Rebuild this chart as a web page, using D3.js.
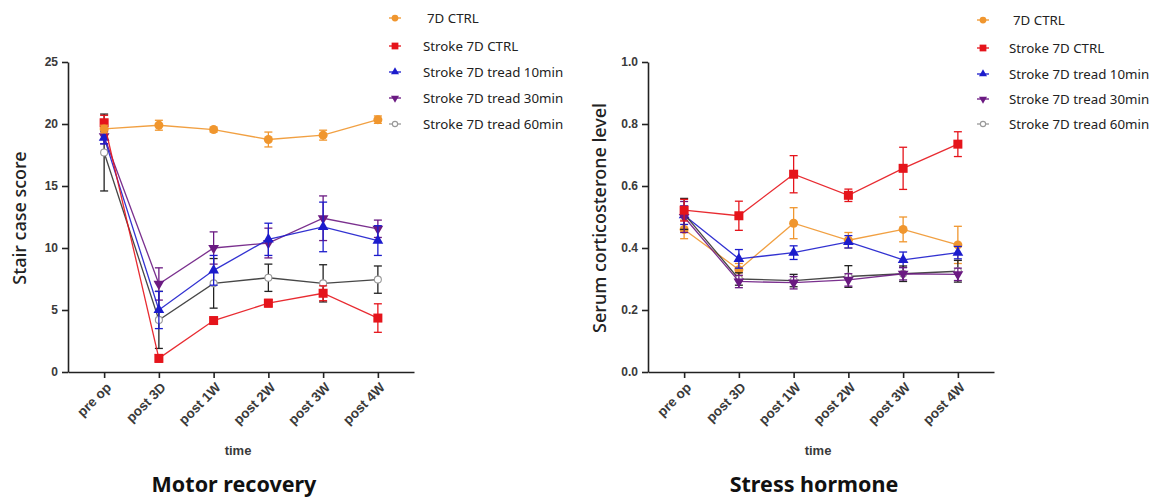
<!DOCTYPE html>
<html>
<head>
<meta charset="utf-8">
<script src="https://cdnjs.cloudflare.com/ajax/libs/d3/7.8.5/d3.min.js"></script>
<style>
  body { margin: 0; background: #fff; }
  svg { display: block; }
  .tick text { font-family: "Liberation Sans", Arial, sans-serif; font-weight: bold; fill: #3a3a3a; }
</style>
</head>
<body>
<div id="chart"></div>
<script>
// time points
var categories = ["pre op", "post 3D", "post 1W", "post 2W", "post 3W", "post 4W"];
var groups = ["7D CTRL", "Stroke 7D CTRL", "Stroke 7D tread 10min", "Stroke 7D tread 30min", "Stroke 7D tread 60min"];

// motor recovery (stair case score), mean and error
var motorCtrl      = [19.6, 19.9, 19.55, 18.75, 19.1, 20.35];
var motorCtrlErr   = [0.3, 0.4, 0.2, 0.6, 0.4, 0.3];
var motorStroke    = [20.1, 1.1, 4.15, 5.55, 6.35, 4.35];
var motorStrokeErr = [0.6, 0.3, 0.2, 0.3, 0.6, 1.15];
var motor10        = [18.9, 5.0, 8.2, 10.7, 11.7, 10.6];
var motor10Err     = [0.5, 1.5, 1.2, 1.3, 2.0, 1.2];
var motor30        = [19.0, 7.1, 10.0, 10.4, 12.4, 11.55];
var motor30Err     = [0.6, 1.3, 1.3, 1.2, 1.8, 0.7];
var motor60        = [17.7, 4.2, 7.15, 7.6, 7.15, 7.45];
var motor60Err     = [3.1, 2.3, 2.0, 1.1, 1.5, 1.1];

// stress hormone (serum corticosterone), mean and error
var cortCtrl      = [0.46, 0.33, 0.48, 0.425, 0.46, 0.41];
var cortCtrlErr   = [0.03, 0.02, 0.05, 0.025, 0.04, 0.06];
var cortStroke    = [0.522, 0.504, 0.638, 0.57, 0.657, 0.735];
var cortStrokeErr = [0.035, 0.047, 0.06, 0.02, 0.068, 0.04];
var cort10        = [0.506, 0.365, 0.385, 0.42, 0.362, 0.385];
var cort10Err     = [0.03, 0.03, 0.022, 0.02, 0.025, 0.02];
var cort30        = [0.50, 0.292, 0.288, 0.297, 0.317, 0.315];
var cort30Err     = [0.05, 0.02, 0.02, 0.02, 0.02, 0.02];
var cort60        = [0.51, 0.30, 0.295, 0.308, 0.317, 0.325];
var cort60Err     = [0.05, 0.02, 0.02, 0.035, 0.025, 0.035];

var motorTicks = [0, 5, 10, 15, 20, 25];
var cortTicks = [0, 0.2, 0.4, 0.6, 0.8, 1.0];

var colors = ["#f0962e", "#e5141b", "#1c1ccc", "#6b1a82", "#333333"];
var shapes = ["circle", "square", "triUp", "triDown", "open"];

var svg = d3.select("#chart").append("svg")
  .attr("width", 1167)
  .attr("height", 497);

function marker(g, shape, color, x, y, s) {
  s = s || 1;
  if (shape == "circle") {
    g.append("circle").attr("cx", x).attr("cy", y).attr("r", 4.5 * s).attr("fill", color);
  } else if (shape == "square") {
    g.append("rect").attr("x", x - 4.5 * s).attr("y", y - 4.5 * s).attr("width", 9 * s).attr("height", 9 * s).attr("fill", color);
  } else if (shape == "triUp") {
    g.append("path").attr("d", d3.symbol(d3.symbolTriangle, 50 * s * s)()).attr("transform", `translate(${x},${y})`).attr("fill", color);
  } else if (shape == "triDown") {
    g.append("path").attr("d", d3.symbol(d3.symbolTriangle, 50 * s * s)()).attr("transform", `translate(${x},${y}) rotate(180)`).attr("fill", color);
  } else {
    g.append("circle").attr("cx", x).attr("cy", y).attr("r", 3.5 * s).attr("fill", "#fff").attr("stroke", "#999").attr("stroke-width", 1.1);
  }
}

function drawPanel(left, series, errs, ticks, fmt, ylabel, title, order) {
  var xScale = d3.scalePoint()
    .domain(categories)
    .range([left, left + 346])
    .padding(0.66);

  var yScale = d3.scaleLinear()
    .domain([0, ticks[ticks.length - 1]])
    .range([372, 62]);

  var g = svg.append("g");

  // data
  order.forEach(function(i) {
    var vals = series[i];
    var err = errs[i];
    var col = colors[i];
    var line = d3.line()
      .x((d, j) => xScale(categories[j]))
      .y(d => yScale(d));
    g.append("path")
      .attr("d", line(vals))
      .attr("fill", "none")
      .attr("stroke", col)
      .attr("stroke-width", 1.3)
      .attr("opacity", 0.9);
    vals.forEach(function(v, j) {
      var x = xScale(categories[j]);
      var ec = i == 4 ? "#222" : col;
      g.append("line").attr("x1", x).attr("x2", x)
        .attr("y1", yScale(v - err[j])).attr("y2", yScale(v + err[j]))
        .attr("stroke", ec).attr("stroke-width", 1.3);
      [v - err[j], v + err[j]].forEach(function(e) {
        g.append("line").attr("x1", x - 4).attr("x2", x + 4)
          .attr("y1", yScale(e)).attr("y2", yScale(e))
          .attr("stroke", ec).attr("stroke-width", 1.3);
      });
      marker(g, shapes[i], col, x, yScale(v));
    });
  });

  // axes
  var yAxis = svg.append("g")
    .attr("transform", `translate(${left},0)`)
    .call(d3.axisLeft(yScale).tickValues(ticks).tickFormat(fmt).tickSize(6).tickSizeOuter(0));
  yAxis.selectAll("text").attr("font-size", 12).attr("dx", -1);

  var xAxis = svg.append("g")
    .attr("transform", "translate(0,372)")
    .call(d3.axisBottom(xScale).tickSize(6).tickSizeOuter(0));
  xAxis.selectAll("text")
    .attr("font-size", 13.5)
    .attr("text-anchor", "end")
    .attr("x", 0).attr("y", 0)
    .attr("dy", "0.35em")
    .attr("transform", "translate(4,13) rotate(-45)");
  svg.selectAll(".domain, .tick line").attr("stroke", "#222").attr("stroke-width", 1.6);

  svg.append("text")
    .attr("x", left + 170).attr("y", 455)
    .attr("text-anchor", "middle")
    .attr("font-family", "Liberation Sans, Arial, sans-serif")
    .attr("font-weight", "bold")
    .attr("font-size", 13)
    .attr("fill", "#3a3a3a")
    .text("time");

  svg.append("text")
    .attr("transform", `translate(${left - 48},${218}) rotate(-90)`)
    .attr("text-anchor", "middle")
    .attr("dy", "0.35em")
    .attr("font-family", "Noto Sans, sans-serif")
    .attr("font-weight", "500")
    .attr("font-size", 18)
    .attr("fill", "#222")
    .text(ylabel);

  svg.append("text")
    .attr("x", left + 166).attr("y", 492)
    .attr("text-anchor", "middle")
    .attr("font-family", "Noto Sans, sans-serif")
    .attr("font-weight", "bold")
    .attr("font-size", 21.5)
    .attr("fill", "#111")
    .text(title);
}

function drawLegend(mx, tx, rows) {
  var lg = svg.append("g");
  groups.forEach(function(name, i) {
    var y = rows[i];
    var col = i == 4 ? "#999" : colors[i];
    lg.append("line").attr("x1", mx - 6).attr("x2", mx + 6)
      .attr("y1", y).attr("y2", y).attr("stroke", col).attr("stroke-width", 1.3);
    marker(lg, shapes[i], colors[i], mx, y, 0.75);
    lg.append("text")
      .attr("x", i == 0 ? tx + 4 : tx).attr("y", y + 4.5)
      .attr("font-family", "Noto Sans, sans-serif")
      .attr("font-size", 13.3)
      .attr("fill", "#222")
      .text(name);
  });
}

drawPanel(68,
  [motorCtrl, motorStroke, motor10, motor30, motor60],
  [motorCtrlErr, motorStrokeErr, motor10Err, motor30Err, motor60Err],
  motorTicks, d3.format("d"), "Stair case score", "Motor recovery", [4, 3, 2, 1, 0]);

drawPanel(648,
  [cortCtrl, cortStroke, cort10, cort30, cort60],
  [cortCtrlErr, cortStrokeErr, cort10Err, cort30Err, cort60Err],
  cortTicks, d3.format(".1f"), "Serum corticosterone level", "Stress hormone", [0, 2, 4, 3, 1]);

drawLegend(395, 423, [18, 46, 72, 98, 124]);
drawLegend(983, 1009, [20, 48, 74, 99, 124]);
</script>
</body>
</html>
